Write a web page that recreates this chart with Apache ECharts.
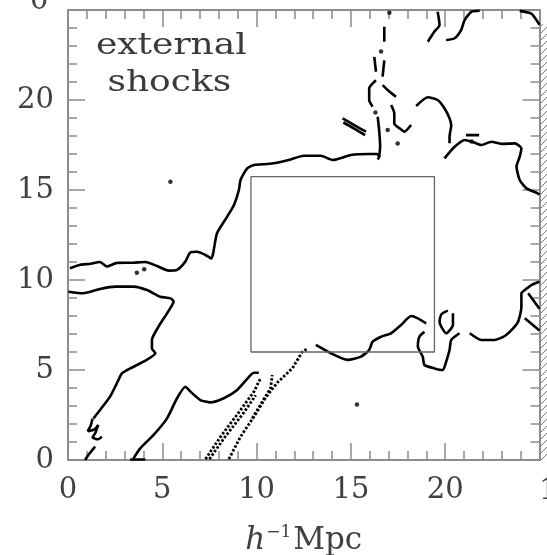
<!DOCTYPE html>
<html>
<head>
<meta charset="utf-8">
<script src="https://cdn.jsdelivr.net/npm/echarts@6/dist/echarts.min.js"></script>
<style>
  html, body { margin: 0; padding: 0; background: #fff; }
  #chart { width: 547px; height: 555px; }
</style>
</head>
<body>
<div id="chart"></div>
<script>
// axis ticks (h^-1 Mpc)
var tickLabels = ['0', '5', '10', '15', '20'];

// shock fronts, [x, y] in h^-1 Mpc
var frontUpperLeft = [[0.1,10.65],[0.64,10.85],[1.2,10.9],[1.7,11.0],[2.06,10.75],[2.6,10.95],[3.46,10.96],[4.1,11.0],[4.72,10.78],[5.34,10.52],[5.78,10.56],[6.22,11.02],[6.49,11.54],[6.85,11.57],[7.29,11.39],[7.6,11.2],[7.7,11.5],[7.9,12.6],[8.44,13.52],[8.8,14.17],[9.06,15.0],[9.15,15.56],[9.5,16.2],[9.86,16.39],[10.57,16.44],[11.0,16.5],[11.8,16.7],[12.5,16.9],[13.4,16.9],[14.03,16.67],[15.0,16.94],[15.97,17.0],[16.38,17.0],[16.5,16.85],[16.42,16.7]];
var frontLowerLeft = [[0.02,9.35],[0.81,9.26],[1.7,9.5],[2.5,9.63],[3.47,9.63],[4.19,9.44],[4.89,9.07],[5.43,8.98],[5.6,8.8],[5.25,8.15],[4.8,7.41],[4.45,6.67],[4.45,6.2],[4.63,5.93],[4.0,5.46],[3.3,5.09],[2.86,4.81],[2.59,4.26],[2.23,3.52],[1.7,2.78],[1.35,2.31]];
var knot = [[1.3,2.3],[1.2,1.9],[1.05,1.6],[1.4,1.7],[1.6,1.95],[1.45,1.5],[1.3,1.25],[1.6,1.15],[1.8,1.3]];
var tailLeft = [[1.44,0.74],[1.08,0.28],[0.9,0.0]];
var frontBump = [[3.47,0.09],[3.83,0.65],[4.54,1.39],[5.25,2.31],[5.78,3.43],[6.22,4.07],[6.49,3.8],[7.02,3.33],[7.55,3.2],[8.26,3.43],[8.97,3.89],[9.68,4.72],[9.86,4.85],[10.12,4.85]];
var baseBar = [[3.3,0.03],[4.1,0.03]];
var diagA = [[7.29,0.05],[8.09,1.3],[9.15,2.78],[9.86,3.8],[10.21,4.55]];
var diagB = [[7.5,0.05],[8.3,1.25],[9.3,2.6],[9.95,3.6]];
var diagC = [[8.53,0.05],[9.15,1.3],[9.86,2.41],[10.5,3.5],[11.1,4.3],[11.9,5.1],[12.43,6.02],[12.65,6.15]];
var diagD = [[9.77,2.31],[10.3,3.24],[10.74,3.98],[10.83,4.72]];
var frontBottomMid = [[13.14,6.39],[13.94,5.93],[14.82,5.56],[15.53,5.74],[15.97,6.11],[16.15,6.57],[16.6,6.85],[17.13,7.04],[17.66,7.5],[18.19,8.0],[18.55,7.87],[18.99,7.59]];
var frontDip = [[18.9,7.13],[18.63,6.85],[18.55,6.3],[18.81,5.74],[18.9,5.28],[19.43,5.09],[19.87,5.0],[20.05,5.46],[20.23,6.11],[20.32,6.67],[20.76,7.04]];
var loopSmall = [[20.14,8.3],[19.8,8.1],[19.7,7.69],[19.79,7.41],[20.05,7.04],[20.41,7.5],[20.41,8.15]];
var frontBottomRight = [[21.3,7.04],[21.91,6.67],[22.62,6.67],[23.16,6.89],[23.6,7.31],[23.87,7.69],[24.04,8.5],[24.04,9.26],[24.22,9.44],[24.57,9.72],[25.0,9.9]];
var edgeA = [[24.4,9.26],[25.0,8.4]];
var edgeB = [[24.22,7.87],[25.0,7.2]];
var topRight1 = [[19.08,23.24],[19.43,23.8],[19.7,24.17],[19.6,24.9]];
var topRight2 = [[20.05,23.33],[20.5,23.43],[20.85,23.9],[21.03,24.44],[21.38,24.9],[21.83,24.96]];
var topCorner = [[23.95,24.95],[24.57,24.8],[24.84,24.44],[25.0,24.17]];
var arcRight = [[18.46,19.67],[19.08,20.15],[19.6,20.0],[19.96,19.54],[20.23,18.98],[20.32,18.6],[20.23,17.96],[20.23,17.6]];
var frontRight = [[19.96,16.76],[20.5,17.4],[21.03,17.78],[21.5,17.65],[21.91,17.5],[22.45,17.68],[22.98,17.56],[23.69,17.59],[24.04,17.32],[23.95,16.85],[23.78,16.3],[23.95,15.56],[24.31,15.09],[24.84,14.85],[25.0,14.75]];
var barRight = [[21.1,18.05],[21.8,18.05]];
var column1 = [[16.77,24.07],[16.77,23.24]];
var column2 = [[16.24,22.4],[16.33,21.57]];
var column3 = [[16.77,22.2],[16.68,21.3]];
var column4 = [[16.33,21.1],[15.97,20.65],[15.97,20.0],[16.15,19.63]];
var column5 = [[16.68,20.83],[16.95,20.56],[17.39,20.18]];
var column6 = [[17.13,19.72],[17.3,19.26],[17.3,18.7],[17.57,18.43],[17.84,18.24],[18.19,18.61]];
var column7 = [[16.42,19.07],[16.5,18.3],[16.55,17.4],[16.5,16.85]];
var streakA = [[14.56,18.98],[15.18,18.6],[15.8,18.24]];
var streakB = [[14.6,18.75],[15.2,18.4],[15.75,18.05]];
var dots = [[5.43,15.46],[15.32,3.09],[3.65,10.4],[4.04,10.6],[17.04,24.85],[16.6,22.7],[17.48,17.59],[16.95,18.33],[16.3,19.3],[21.4,17.7]];

// inner box
var boxCorners = [[9.7,6.0],[19.43,6.0],[19.43,15.74],[9.7,15.74],[9.7,6.0]];

var solidFronts = [frontUpperLeft, frontLowerLeft, knot, tailLeft, frontBump, baseBar, frontBottomMid, frontDip, loopSmall,
  frontBottomRight, edgeA, edgeB, topRight1, topRight2, topCorner, arcRight, frontRight, barRight,
  column1, column2, column3, column4, column5, column6, column7, streakA, streakB];
var dottedFronts = [diagA, diagB, diagC, diagD];

var chart = echarts.init(document.getElementById('chart'));

var axisGray = '#8c8c8c';
var textGray = '#404040';
var labelFont = 'DejaVu Serif';

function xAx(pos, showLabel) {
  return {
    type: 'value', position: pos, min: 0, max: 25, interval: 5,
    axisLine: { onZero: false, lineStyle: { color: axisGray, width: 2 } },
    axisTick: { inside: true, length: 17, lineStyle: { color: axisGray, width: 1.5 } },
    minorTick: { show: true, splitNumber: 5, length: 9, lineStyle: { color: axisGray, width: 1.5 } },
    splitLine: { show: false },
    axisLabel: {
      show: showLabel, margin: 16, color: textGray, fontFamily: labelFont, fontSize: 29,
      formatter: function (v) { return tickLabels.indexOf(String(v)) >= 0 ? String(v) : ''; }
    }
  };
}
function yAx(pos, showLabel) {
  var a = xAx(pos, showLabel);
  a.axisLabel.margin = 14;
  return a;
}

// little hatch pattern for the strip on the right edge
var hatch = document.createElement('canvas');
hatch.width = 7; hatch.height = 7;
var hc = hatch.getContext('2d');
hc.strokeStyle = '#777';
hc.lineWidth = 1;
hc.beginPath(); hc.moveTo(0, 7); hc.lineTo(7, 0); hc.stroke();

var series = [];
solidFronts.forEach(function (d) {
  series.push({ type: 'line', data: d, showSymbol: false, smooth: 0.2, silent: true,
    lineStyle: { color: '#000', width: 2.6 } });
});
dottedFronts.forEach(function (d) {
  series.push({ type: 'line', data: d, showSymbol: false, silent: true,
    lineStyle: { color: '#000', width: 2.8, type: [2.5, 1.8] } });
});
series.push({ type: 'scatter', data: dots, symbolSize: 4.5, silent: true, itemStyle: { color: '#000' } });
series.push({ type: 'line', data: boxCorners, showSymbol: false, silent: true,
  lineStyle: { color: '#666', width: 1.3 } });

chart.setOption({
  animation: false,
  backgroundColor: '#fff',
  grid: { left: 68, right: 7.5, top: 10, bottom: 95, containLabel: false, outerBoundsMode: 'none' },
  xAxis: [
    Object.assign(xAx('bottom', true), {
      name: '{h|h}{s|−1}{m|Mpc}', nameLocation: 'middle', nameGap: 64,
      nameTextStyle: {
        rich: {
          h: { fontFamily: labelFont, fontStyle: 'italic', fontSize: 31, color: textGray },
          s: { fontFamily: labelFont, fontSize: 17, color: textGray, padding: [0, 2, 16, 1] },
          m: { fontFamily: labelFont, fontSize: 31, color: textGray }
        }
      }
    }),
    xAx('top', false)
  ],
  yAxis: [yAx('left', true), yAx('right', false)],
  graphic: [
    { type: 'text', left: 96, top: 28, scaleX: 1.2, originX: 0,
      style: { text: 'external\n shocks', fontFamily: labelFont, fontSize: 30, lineHeight: 37, fill: '#3a3a3a' } },
    { type: 'text', left: 30, top: -13, style: { text: '0', fontFamily: labelFont, fontSize: 29, fill: textGray } },
    { type: 'text', left: 539, top: 477, style: { text: '1', fontFamily: labelFont, fontSize: 29, fill: textGray } },
    { type: 'rect', shape: { x: 540, y: 24, width: 7, height: 436 }, silent: true,
      style: { fill: { image: hatch, repeat: 'repeat' } } }
  ],
  series: series
});
</script>
</body>
</html>
